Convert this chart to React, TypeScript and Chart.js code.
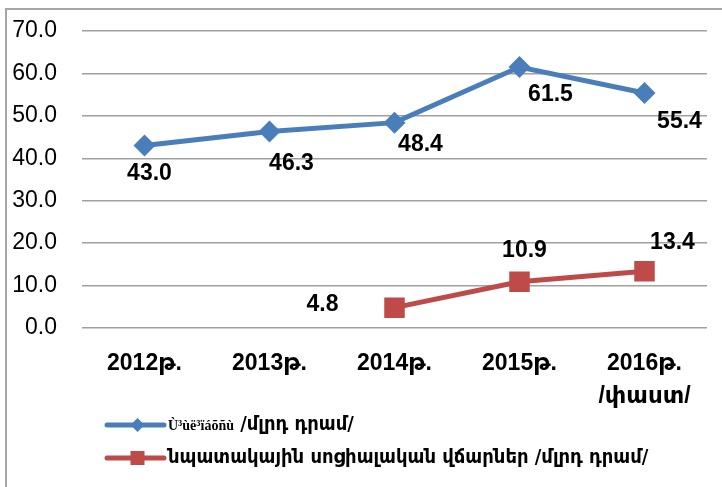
import React, { useEffect, useRef } from "react";
import { Chart, registerables } from "chart.js";

Chart.register(...registerables);

const categories: (string | string[])[] = ["2012թ.", "2013թ.", "2014թ.", "2015թ.", ["2016թ.", "/փաստ/"]];
const seriesBudget: (number | null)[] = [43.0, 46.3, 48.4, 61.5, 55.4];
const seriesSocial: (number | null)[] = [null, null, 4.8, 10.9, 13.4];
const seriesNames = ["Ù³ùë³ïáõñù /մլրդ դրամ/", "նպատակային սոցիալական վճարներ /մլրդ դրամ/"];
const yMin = 0;
const yMax = 70;
const yStep = 10;

const BLUE = "#4a7ebb";
const RED = "#be4b48";

// label offsets relative to each point (style only)
const labelOffsets = [
  [[5, 28], [22, 32], [26, 22], [31, 28], [35, 29]],
  [[0, 0], [0, 0], [-72, -3], [5, -31], [28, -28]],
];

const dataLabelPlugin = {
  id: "dataLabels",
  afterDatasetsDraw(chart: any) {
    const ctx = chart.ctx;
    ctx.save();
    ctx.font = 'bold 23px "Liberation Sans", "DejaVu Sans"';
    ctx.fillStyle = "#000";
    ctx.textAlign = "center";
    ctx.textBaseline = "middle";
    chart.data.datasets.forEach((ds: any, di: number) => {
      const meta = chart.getDatasetMeta(di);
      meta.data.forEach((el: any, i: number) => {
        const v = ds.data[i];
        if (v === null || v === undefined) return;
        const off = labelOffsets[di][i];
        ctx.fillText(v.toFixed(1), el.x + off[0], el.y + off[1]);
      });
    });
    ctx.restore();
  },
};

const legendPlugin = {
  id: "customLegend",
  afterDraw(chart: any) {
    const ctx = chart.ctx;
    const rows = [425, 458];
    ctx.save();
    chart.data.datasets.forEach((ds: any, di: number) => {
      const y = rows[di];
      const x0 = 107;
      const x1 = 164;
      ctx.strokeStyle = ds.borderColor;
      ctx.lineWidth = 5;
      ctx.lineCap = "round";
      ctx.beginPath();
      ctx.moveTo(x0, y);
      ctx.lineTo(x1, y);
      ctx.stroke();
      ctx.fillStyle = ds.borderColor;
      const cx = (x0 + x1) / 2 + 2;
      if (ds.pointStyle === "rectRot") {
        ctx.beginPath();
        ctx.moveTo(cx, y - 7);
        ctx.lineTo(cx + 7, y);
        ctx.lineTo(cx, y + 7);
        ctx.lineTo(cx - 7, y);
        ctx.closePath();
        ctx.fill();
      } else {
        ctx.fillRect(cx - 7, y - 7, 14, 14);
      }
      ctx.textBaseline = "middle";
      ctx.textAlign = "left";
      ctx.fillStyle = "#000";
      let tx = 168;
      const label: string = ds.label;
      const idx = label.indexOf(" /");
      const armFont = 'bold 20px "DejaVu Sans Condensed", "DejaVu Sans"';
      if (di === 0 && idx > 0) {
        const pre = label.slice(0, idx);
        ctx.font = 'bold 14px "Liberation Serif"';
        ctx.fillText(pre, tx, y + 1);
        tx += ctx.measureText(pre).width;
        ctx.font = armFont;
        ctx.fillText(label.slice(idx), tx, y);
      } else {
        ctx.font = armFont;
        ctx.fillText(label, tx, y);
      }
    });
    ctx.restore();
  },
};

export default function App() {
  const ref = useRef<HTMLCanvasElement | null>(null);
  useEffect(() => {
    if (!ref.current) return;
    const chart = new Chart(ref.current, {
      type: "line",
      data: {
        labels: categories as any,
        datasets: [
          {
            label: seriesNames[0],
            data: seriesBudget,
            borderColor: BLUE,
            backgroundColor: BLUE,
            borderWidth: 5,
            pointStyle: "rectRot",
            pointRadius: 11,
            pointHoverRadius: 11,
            pointBorderWidth: 0,
            tension: 0,
          },
          {
            label: seriesNames[1],
            data: seriesSocial,
            borderColor: RED,
            backgroundColor: RED,
            borderWidth: 5,
            pointStyle: "rect",
            pointRadius: 14.5,
            pointHoverRadius: 14.5,
            pointBorderWidth: 0,
            tension: 0,
          },
        ],
      },
      options: {
        animation: false,
        responsive: false,
        maintainAspectRatio: false,
        layout: { padding: { left: 12, top: 31, right: 15, bottom: 75 } },
        plugins: {
          legend: { display: false },
          tooltip: { enabled: false },
          title: { display: false },
        },
        scales: {
          x: {
            offset: true,
            grid: { display: false, drawTicks: false },
            border: { display: false },
            ticks: {
              color: "#000",
              padding: 20,
              maxRotation: 0,
              autoSkip: false,
              font: { family: '"Liberation Sans", "DejaVu Sans"', size: 23, weight: "bold", lineHeight: 1.4 },
            },
            afterFit: (scale: any) => {
              scale.height = 84;
              scale.paddingLeft = 0;
              scale.paddingRight = 0;
            },
          },
          y: {
            min: yMin,
            max: yMax,
            grid: { color: "#a0a0a0", lineWidth: 1.5, drawTicks: false },
            border: { display: false },
            ticks: {
              stepSize: yStep,
              color: "#000",
              padding: 25,
              font: { family: '"Liberation Sans", "DejaVu Sans"', size: 23 },
              callback: (v: any) => Number(v).toFixed(1),
            },
            afterFit: (scale: any) => {
              scale.width = 70;
              scale.paddingTop = 0;
              scale.paddingBottom = 0;
            },
          },
        },
      },
      plugins: [dataLabelPlugin, legendPlugin],
    });
    return () => chart.destroy();
  }, []);
  return (
    <div style={{ position: "fixed", left: 0, top: 0, width: 722, height: 487, background: "#fff", overflow: "hidden" }}>
      <div
        style={{
          position: "absolute",
          left: 5,
          top: 8,
          width: 740,
          height: 500,
          borderLeft: "2px solid #a6a6a6",
          borderTop: "2px solid #a6a6a6",
        }}
      />
      <canvas ref={ref} width={722} height={487} style={{ position: "absolute", left: 0, top: 0, width: 722, height: 487 }} />
    </div>
  );
}
